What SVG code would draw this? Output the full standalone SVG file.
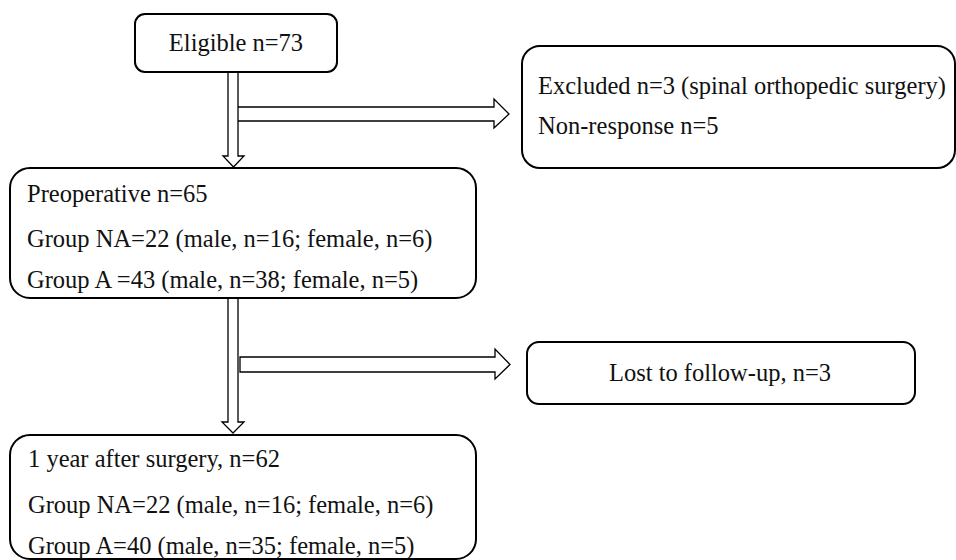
<svg xmlns="http://www.w3.org/2000/svg" width="956" height="560" viewBox="0 0 956 560">
<style>
.box{fill:#fff;stroke:#000;stroke-width:2}
.arr{fill:#fff;stroke:#000;stroke-width:1.3;stroke-linejoin:miter}
text{font-family:"Liberation Serif","Times New Roman",serif;font-size:24.5px;fill:#111}
.c{text-anchor:middle}
</style>
<rect width="956" height="560" fill="#fff"/>
<g id="connectors">
<path class="arr" d="M238,107 H494 V99 L509,114 L494,128 V121 H238"/>
<path class="arr" d="M228,71 V156 H223 L233.5,167 L244,156 H238 V71 Z"/>
<path class="arr" d="M240,357 H495 V349 L510,364.5 L495,379 V372 H240 Z"/>
<path class="arr" d="M228,298 V422 H222 L233,433 L244,422 H238 V298 Z"/>
</g>
<g id="eligible">
<rect class="box" x="135" y="14" width="202" height="58" rx="10"/>
<text class="c" x="236" y="51">Eligible n=73</text>
</g>
<g id="excluded">
<rect class="box" x="522" y="46" width="433" height="122" rx="18"/>
<text x="538" y="94">Excluded n=3 (spinal orthopedic surgery)</text>
<text x="538" y="134">Non-response n=5</text>
</g>
<g id="preoperative">
<rect class="box" x="10" y="168" width="466" height="130" rx="20"/>
<text x="27" y="202">Preoperative n=65</text>
<text x="27" y="247">Group NA=22 (male, n=16; female, n=6)</text>
<text x="27" y="288">Group A =43 (male, n=38; female, n=5)</text>
</g>
<g id="lost">
<rect class="box" x="527" y="342" width="388" height="62" rx="12"/>
<text class="c" x="720" y="381">Lost to follow-up, n=3</text>
</g>
<g id="followup">
<rect class="box" x="10" y="435" width="466" height="124" rx="20"/>
<text x="28" y="467">1 year after surgery, n=62</text>
<text x="28" y="513">Group NA=22 (male, n=16; female, n=6)</text>
<text x="28" y="554">Group A=40 (male, n=35; female, n=5)</text>
</g>
</svg>
